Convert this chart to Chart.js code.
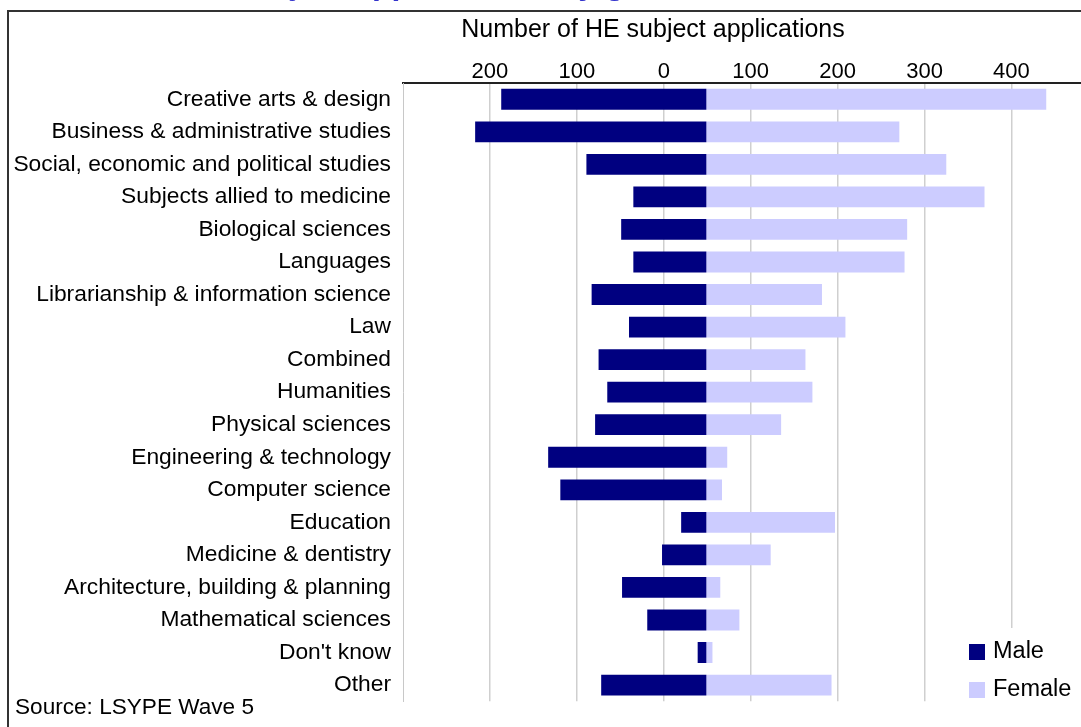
<!DOCTYPE html>
<html lang="en">
<head>
<meta charset="UTF-8">
<title>HE subject applications by gender</title>
<script src="https://cdn.jsdelivr.net/npm/chart.js@4.4.1/dist/chart.umd.min.js"></script>
<style>
    html, body {
        margin: 0;
        padding: 0;
        background: #fff;
        overflow: hidden;
    }

    .chart-box {
        position: relative;
        width: 1081px;
        height: 727px;
    }
</style>
</head>
<body>
<div class="chart-box"><canvas id="subjects-chart"></canvas></div>

<script>
    // Subjects, top to bottom
    const subjects = [
        'Creative arts & design',
        'Business & administrative studies',
        'Social, economic and political studies',
        'Subjects allied to medicine',
        'Biological sciences',
        'Languages',
        'Librarianship & information science',
        'Law',
        'Combined',
        'Humanities',
        'Physical sciences',
        'Engineering & technology',
        'Computer science',
        'Education',
        'Medicine & dentistry',
        'Architecture, building & planning',
        'Mathematical sciences',
        "Don't know",
        'Other'
    ];

    // Bar lengths (axis units)
    const maleApplications = [236, 266, 138, 84, 98, 84, 132, 89, 124, 114, 128, 182, 168, 29, 51, 97, 68, 10, 121];
    const femaleApplications = [391, 222, 276, 320, 231, 228, 133, 160, 114, 122, 86, 24, 18, 148, 74, 16, 38, 7, 144];

    // Axis ticks as printed (left side shown without the minus sign)
    const tickValues = [-200, -100, 0, 100, 200, 300, 400];

    // In the original the bars meet a little right of the "0" gridline
    const barBase = 49;

    const FONT = '"Liberation Sans", Arial, sans-serif';
    Chart.defaults.font.family = FONT;
    Chart.defaults.color = '#000';

    const seriesNames = ['Male', 'Female'];
    const seriesColors = ['#000080', '#ccccff'];
    const axisTitle = 'Number of HE subject applications';

    // Frame, cut-off title, axis title, source note and the legend box
    const decorations = {
        id: 'decorations',
        beforeDraw(chart) {
            const ctx = chart.ctx;
            ctx.save();
            ctx.fillStyle = '#fff';
            ctx.fillRect(0, 0, chart.width, chart.height);

            ctx.fillStyle = '#3333cc';
            ctx.font = 'bold 32px ' + FONT;
            ctx.textBaseline = 'alphabetic';
            ctx.fillText('HE subject applications, by gender', 180, -6);

            ctx.strokeStyle = '#333';
            ctx.lineWidth = 2;
            ctx.beginPath();
            ctx.moveTo(8, chart.height);
            ctx.lineTo(8, 11);
            ctx.lineTo(chart.width, 11);
            ctx.stroke();

            ctx.fillStyle = '#000';
            ctx.font = '25px ' + FONT;
            ctx.textAlign = 'center';
            ctx.textBaseline = 'middle';
            ctx.fillText(axisTitle, 653, 30);
            ctx.restore();
        },
        afterDraw(chart) {
            const ctx = chart.ctx;
            ctx.save();

            ctx.fillStyle = '#fff';
            ctx.fillRect(955, 628, 126, 78);

            ctx.font = '23.5px ' + FONT;
            ctx.textBaseline = 'middle';
            seriesNames.forEach((name, i) => {
                const y = 652 + i * 38;
                ctx.fillStyle = seriesColors[i];
                ctx.fillRect(969, y - 8, 16, 16);
                ctx.fillStyle = '#000';
                ctx.fillText(name, 993, y);
            });

            ctx.font = '22.6px ' + FONT;
            ctx.fillText('Source: LSYPE Wave 5', 15, 708);
            ctx.restore();
        }
    };

    new Chart(document.getElementById('subjects-chart'), {
        type: 'bar',
        data: {
            labels: subjects,
            datasets: [
                {
                    label: seriesNames[0],
                    data: maleApplications.map(v => [barBase - v, barBase]),
                    backgroundColor: seriesColors[0],
                    grouped: false,
                    categoryPercentage: 1,
                    barPercentage: 0.64
                },
                {
                    label: seriesNames[1],
                    data: femaleApplications.map(v => [barBase, barBase + v]),
                    backgroundColor: seriesColors[1],
                    grouped: false,
                    categoryPercentage: 1,
                    barPercentage: 0.64
                }
            ]
        },
        options: {
            indexAxis: 'y',
            responsive: true,
            maintainAspectRatio: false,
            animation: false,
            layout: {
                padding: { top: 12, left: 9, right: 0, bottom: 17 }
            },
            plugins: {
                legend: { display: false },
                tooltip: { enabled: false }
            },
            scales: {
                x: {
                    position: 'top',
                    min: -300,
                    max: 480,
                    afterBuildTicks(scale) {
                        scale.ticks = tickValues.map(v => ({ value: v }));
                    },
                    afterFit(scale) {
                        scale.height = 71;
                    },
                    ticks: {
                        padding: 0,
                        font: { size: 22, lineHeight: 1 },
                        callback: v => Math.abs(v)
                    },
                    grid: {
                        color: '#cfcfcf',
                        lineWidth: 1.5,
                        drawTicks: false
                    },
                    border: {
                        color: '#222',
                        width: 2
                    }
                },
                y: {
                    afterFit(scale) {
                        scale.width = 394;
                    },
                    ticks: {
                        padding: 12,
                        font: { size: 22.8 }
                    },
                    grid: {
                        display: false,
                        drawTicks: false
                    },
                    border: {
                        color: '#c8c8c8',
                        width: 1
                    }
                }
            }
        },
        plugins: [decorations]
    });
</script>
</body>
</html>
